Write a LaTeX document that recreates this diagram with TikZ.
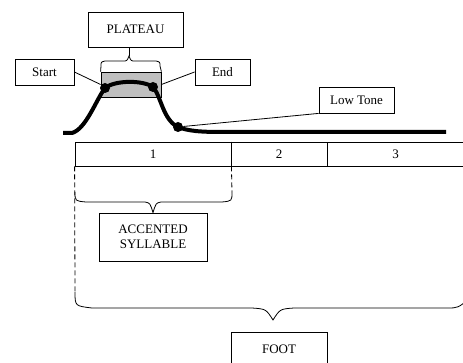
\documentclass[tikz,border=0pt]{standalone}
\usepackage{fontspec}
\setmainfont{Liberation Serif}

\begin{document}
\begin{tikzpicture}[x=1pt, y=-1pt, font=\fontsize{13}{15}\selectfont, line width=0.8pt,
    label box/.style={draw, inner sep=0pt, align=center},
    tone dot/.style={circle, fill=black, inner sep=0pt, minimum size=10pt},
    cell/.style={draw, inner sep=0pt, minimum height=24pt},
    guide/.style={dash pattern=on 5pt off 3pt}]
  \def\lw{4pt}
  \clip (0,0) rectangle (463,363);

  % labels above
  \node[label box, minimum width=95pt, minimum height=35pt] (plateau) at (135.5,29.5) {PLATEAU};
  \node[label box, minimum width=59pt, minimum height=26pt] (start) at (44.5,72) {Start};
  \node[label box, minimum width=55pt, minimum height=26pt] (endbox) at (222.5,72) {End};
  \node[label box, minimum width=75pt, minimum height=26pt] (low) at (356.5,100) {Low Tone};
  \node[label box, fill=black!25, minimum width=60pt, minimum height=25pt] (plat) at (131,84.5) {};

  % contour
  \coordinate (t1) at (105,88);
  \coordinate (t2) at (153,87);
  \coordinate (t3) at (178,127);
  \draw[line width=\lw]
    (63,133) -- (72,133) .. controls (86,129) and (96,100) .. (t1)
    .. controls (115,80) and (143,80) .. (t2)
    .. controls (161,96) and (163,120) .. (t3)
    .. controls (188,131) and (200,132) .. (222,132) -- (446,132);
  \node[tone dot] (d1) at (t1) {};
  \node[tone dot] (d2) at (t2) {};
  \node[tone dot] (d3) at (t3) {};

  \draw (start.east) -- (plat.west);
  \draw (plat.east) -- (endbox.west);
  \draw (d3) -- (low.south west);

  % plateau brace
  \coordinate (ptip) at (129,56);
  \draw (plat.north west) -- (101,66) .. controls (101,62) .. (105,61) -- (123,61)
    .. controls (127,61) .. (ptip) .. controls (131,61) .. (135,61) -- (156,61)
    .. controls (160,62) .. (160,66) -- (plat.north east);
  \draw (ptip) -- (ptip |- plateau.south);

  % syllables
  \node[cell, minimum width=156pt] (c1) at (153,154) {1};
  \node[cell, minimum width=96pt] (c2) at (279,154) {2};
  \node[cell, minimum width=137pt] (c3) at (395.5,154) {3};
  \draw[line width=1.6pt] (c1.north east) -- (c1.south east);

  % accented syllable brace
  \node[label box, minimum width=108pt, minimum height=48pt] (accent) at (153,237)
    {ACCENTED\\SYLLABLE};
  \draw[guide] (c1.south east) -- (232,192);
  \draw (75,192) .. controls (75,201) .. (86,202) -- (145,202)
    .. controls (150,203) .. (accent.north) .. controls (156,203) .. (161,202)
    -- (222,202) .. controls (232,201) .. (232,192);

  % foot brace
  \node[label box, minimum width=96pt, minimum height=34pt] (foot) at (279,349) {FOOT};
  \draw[guide] (c1.south west) -- (75,292);
  \draw (75,292) .. controls (75,306) .. (92,308) -- (252,308)
    .. controls (266,309) .. (273,320) .. controls (280,309) .. (294,308)
    -- (447,308) .. controls (458,308) .. (470,298);
\end{tikzpicture}
\end{document}
